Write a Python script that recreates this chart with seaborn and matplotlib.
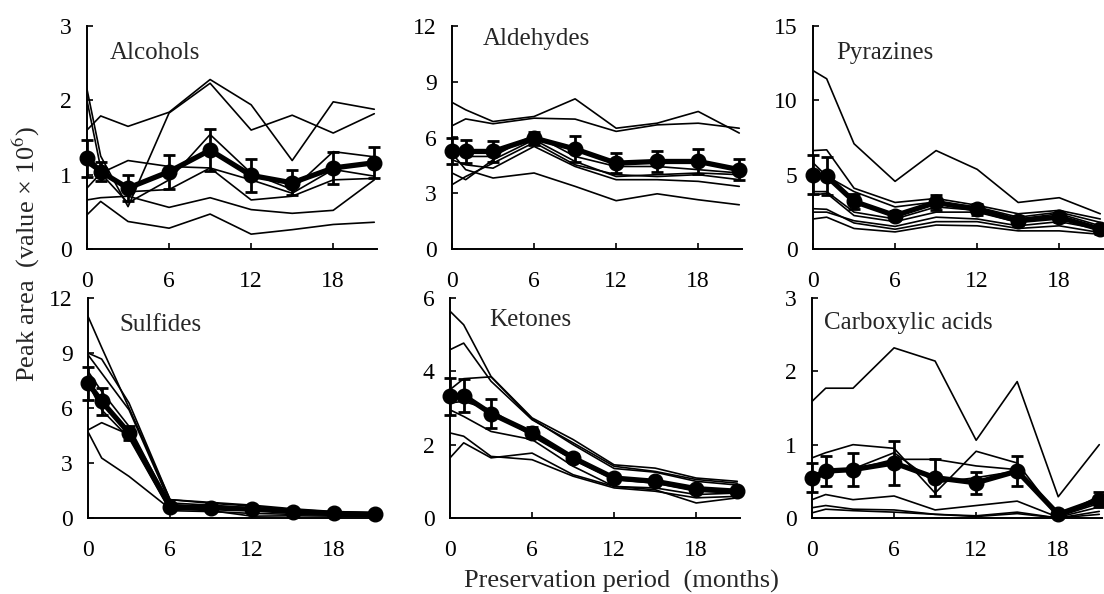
import numpy as np
import pandas as pd
import seaborn as sns
import matplotlib.pyplot as plt

# Preservation period (months)
months = [0, 1, 3, 6, 9, 12, 15, 18, 21]
y_ticks = {"Alcohols": [0, 1, 2, 3], "Aldehydes": [0, 3, 6, 9, 12],
           "Pyrazines": [0, 5, 10, 15], "Sulfides": [0, 3, 6, 9, 12],
           "Ketones": [0, 2, 4, 6], "Carboxylic acids": [0, 1, 2, 3]}

# individual samples (thin lines), peak area x 10^6
alcohols_samples = [
    [1.60, 1.79, 1.65, 1.84, 2.28, 1.94, 1.19, 1.98, 1.88],
    [2.15, 1.25, 0.57, 1.83, 2.23, 1.60, 1.80, 1.56, 1.82],
    [2.00, 1.09, 0.77, 0.80, 1.09, 0.93, 0.75, 1.07, 0.98],
    [0.82, 1.02, 1.19, 1.11, 1.09, 0.66, 0.71, 0.93, 0.95],
    [0.66, 0.69, 0.71, 0.56, 0.69, 0.53, 0.48, 0.52, 0.93],
    [0.46, 0.64, 0.37, 0.28, 0.47, 0.20, 0.26, 0.33, 0.36],
    [1.15, 1.02, 0.62, 0.93, 1.54, 1.02, 0.80, 1.31, 1.24],
]
alcohols_mean = [1.22, 1.04, 0.82, 1.04, 1.33, 0.99, 0.89, 1.09, 1.16]
alcohols_sd = [0.25, 0.13, 0.18, 0.23, 0.28, 0.22, 0.17, 0.22, 0.21]

aldehydes_samples = [
    [7.89, 7.49, 6.86, 7.13, 8.08, 6.50, 6.77, 7.40, 6.24],
    [6.63, 7.00, 6.74, 7.04, 6.99, 6.33, 6.68, 6.77, 6.50],
    [5.16, 4.27, 3.82, 4.09, 3.37, 2.60, 2.97, 2.65, 2.38],
    [4.80, 4.53, 4.35, 5.52, 4.44, 3.73, 3.73, 3.64, 3.37],
    [3.46, 3.90, 4.62, 5.73, 4.53, 4.00, 3.90, 4.00, 3.73],
    [4.09, 3.73, 4.80, 5.88, 4.71, 3.90, 4.00, 4.09, 4.00],
    [5.52, 4.98, 4.98, 6.15, 4.98, 4.44, 4.44, 4.27, 4.09],
]
aldehydes_mean = [5.25, 5.25, 5.25, 5.97, 5.38, 4.62, 4.71, 4.71, 4.27]
aldehydes_sd = [0.70, 0.60, 0.55, 0.35, 0.70, 0.55, 0.55, 0.65, 0.57]

pyrazines_samples = [
    [12.0, 11.45, 7.08, 4.55, 6.62, 5.36, 3.13, 3.45, 2.37],
    [6.62, 6.67, 4.09, 3.13, 3.40, 2.94, 2.37, 2.60, 2.02],
    [5.80, 4.90, 3.86, 2.83, 3.17, 2.83, 2.14, 2.48, 1.79],
    [3.86, 3.86, 2.48, 2.02, 2.83, 2.60, 2.02, 2.37, 1.56],
    [3.63, 3.75, 2.25, 1.84, 2.48, 2.48, 1.79, 2.14, 1.33],
    [2.71, 2.67, 1.75, 1.33, 1.84, 1.84, 1.38, 1.56, 1.10],
    [2.48, 2.48, 1.90, 1.52, 2.14, 2.02, 1.56, 1.84, 1.33],
    [2.02, 2.14, 1.38, 1.15, 1.61, 1.56, 1.22, 1.22, 0.99],
]
pyrazines_mean = [5.00, 4.90, 3.20, 2.25, 3.13, 2.67, 1.90, 2.14, 1.33]
pyrazines_sd = [1.30, 1.30, 0.50, 0.30, 0.50, 0.35, 0.30, 0.30, 0.30]

sulfides_samples = [
    [11.0, 9.30, 6.00, 1.00, 0.85, 0.70, 0.50, 0.35, 0.30],
    [9.00, 8.67, 6.27, 1.00, 0.80, 0.65, 0.45, 0.30, 0.25],
    [8.90, 7.90, 5.90, 0.82, 0.70, 0.55, 0.40, 0.30, 0.25],
    [8.00, 6.90, 5.00, 0.70, 0.60, 0.50, 0.35, 0.25, 0.20],
    [7.36, 5.90, 4.36, 0.40, 0.35, 0.25, 0.20, 0.15, 0.12],
    [4.80, 5.20, 4.55, 0.73, 0.55, 0.45, 0.30, 0.20, 0.15],
    [4.70, 3.27, 2.27, 0.50, 0.40, 0.10, 0.12, 0.10, 0.10],
]
sulfides_mean = [7.36, 6.36, 4.64, 0.62, 0.55, 0.48, 0.35, 0.25, 0.20]
sulfides_sd = [0.90, 0.75, 0.40, 0.15, 0.12, 0.10, 0.08, 0.06, 0.05]

ketones_samples = [
    [5.64, 5.27, 3.86, 2.73, 2.14, 1.45, 1.36, 1.09, 1.00],
    [4.59, 4.77, 3.73, 2.68, 2.05, 1.41, 1.27, 1.05, 0.95],
    [3.50, 3.80, 3.85, 2.70, 2.00, 1.35, 1.25, 1.00, 0.90],
    [2.95, 2.77, 2.36, 2.14, 1.41, 0.86, 0.77, 0.41, 0.55],
    [2.32, 2.23, 1.68, 1.59, 1.14, 0.82, 0.73, 0.55, 0.59],
    [1.64, 2.05, 1.64, 1.77, 1.18, 0.86, 0.82, 0.64, 0.68],
    [3.14, 3.18, 2.95, 2.23, 1.59, 1.05, 0.95, 0.73, 0.68],
]
ketones_mean = [3.32, 3.34, 2.85, 2.32, 1.64, 1.09, 1.00, 0.80, 0.73]
ketones_sd = [0.50, 0.45, 0.40, 0.15, 0.10, 0.08, 0.08, 0.08, 0.08]

carboxylic_samples = [
    [1.59, 1.77, 1.77, 2.32, 2.14, 1.06, 1.86, 0.29, 1.00],
    [0.82, 0.89, 1.00, 0.95, 0.34, 0.91, 0.75, 0.02, 0.30],
    [0.57, 0.66, 0.66, 0.80, 0.80, 0.71, 0.66, 0.02, 0.20],
    [0.48, 0.61, 0.67, 0.89, 0.48, 0.55, 0.64, 0.02, 0.25],
    [0.25, 0.32, 0.25, 0.30, 0.11, 0.17, 0.23, 0.01, 0.15],
    [0.14, 0.17, 0.12, 0.11, 0.05, 0.03, 0.08, 0.00, 0.09],
    [0.07, 0.12, 0.10, 0.08, 0.05, 0.02, 0.06, 0.00, 0.05],
]
carboxylic_mean = [0.55, 0.64, 0.66, 0.75, 0.55, 0.48, 0.64, 0.05, 0.25]
carboxylic_sd = [0.20, 0.20, 0.22, 0.30, 0.25, 0.15, 0.20, 0.03, 0.10]

panels = [
    ("Alcohols", alcohols_samples, alcohols_mean, alcohols_sd),
    ("Aldehydes", aldehydes_samples, aldehydes_mean, aldehydes_sd),
    ("Pyrazines", pyrazines_samples, pyrazines_mean, pyrazines_sd),
    ("Sulfides", sulfides_samples, sulfides_mean, sulfides_sd),
    ("Ketones", ketones_samples, ketones_mean, ketones_sd),
    ("Carboxylic acids", carboxylic_samples, carboxylic_mean, carboxylic_sd),
]

# axes placement in pixels: left, bottom(y=0), top(y=max)
W, H = 1104, 594
lefts = [87, 452, 813, 88, 450, 812]
row_px = [(249, 26), (518, 298)]
name_pos = [(0.08, 0.88), (0.107, 0.94), (0.08, 0.88),
            (0.107, 0.877), (0.134, 0.90), (0.04, 0.886)]


def main():
    sns.set_style("ticks")
    plt.rcParams["font.family"] = ["Liberation Serif", "DejaVu Serif"]
    plt.rcParams["mathtext.fontset"] = "stix"

    fig = plt.figure(figsize=(W / 100, H / 100), dpi=100)
    for i, (name, samples, mean, sd) in enumerate(panels):
        bot, top = row_px[i // 3]
        ax = fig.add_axes([lefts[i] / W, 1 - bot / H, 290 / W, (bot - top) / H])

        df = pd.DataFrame([(s, m, v) for s, row in enumerate(samples)
                           for m, v in zip(months, row)],
                          columns=["sample", "month", "area"])
        sns.lineplot(data=df, x="month", y="area", units="sample", estimator=None,
                     color="black", lw=1.2, ax=ax, legend=False)
        ax.errorbar(months, mean, yerr=sd, fmt="-o", color="black", lw=3.8, ms=10.5,
                    elinewidth=2, capsize=4, capthick=2, clip_on=False, zorder=5)

        ticks = y_ticks[name]
        ax.set_xlim(0, 21.2)
        ax.set_ylim(0, ticks[-1])
        ax.set_xticks([0, 6, 12, 18])
        ax.set_yticks(ticks)
        ax.set_xlabel("")
        ax.set_ylabel("")
        ax.tick_params(direction="in", length=4, width=1.2, labelsize=17,
                       colors="black")
        ax.tick_params(axis="x", pad=16)
        ax.tick_params(axis="y", pad=11)
        for side in ["top", "right"]:
            ax.spines[side].set_visible(False)
        for side in ["left", "bottom"]:
            ax.spines[side].set_linewidth(1.4)
            ax.spines[side].set_color("black")
        ax.text(name_pos[i][0], name_pos[i][1], name, transform=ax.transAxes,
                fontsize=18, va="center", ha="left")

    fig.text(0.024, 0.572, "Peak area  (value × 10$^{6}$)", rotation=90,
             fontsize=19, ha="center", va="center")
    fig.text(0.563, 0.021, "Preservation period  (months)", fontsize=19,
             ha="center", va="center")

    fig.savefig("out.png", dpi=100)


main()
